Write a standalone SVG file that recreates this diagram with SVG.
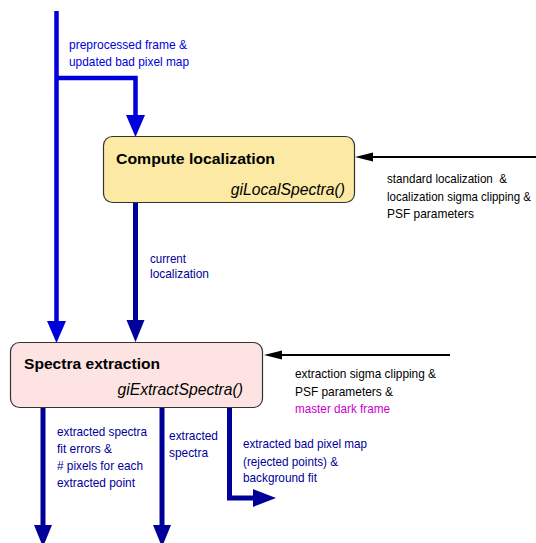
<svg xmlns="http://www.w3.org/2000/svg" width="536" height="543" viewBox="0 0 536 543">
<style>
.box{stroke:#333;stroke-width:1.2}
.title{font-family:"Liberation Sans",Arial,sans-serif;font-size:15.5px;font-weight:bold;fill:#000}
.func{font-family:"Liberation Sans",Arial,sans-serif;font-size:15.7px;font-style:italic;fill:#000}
.lbl{font-family:"Liberation Sans",Arial,sans-serif;font-size:13.5px}
.blue{fill:#0000dd}
.navy{fill:#000099}
.blk{fill:#000}
.mag{fill:#cc00cc}
.lb{fill:none;stroke:#0000dd;stroke-width:4.5}
.ln{fill:none;stroke:#000099;stroke-width:5}
.lk{fill:none;stroke:#000;stroke-width:1.8}
</style>
<g id="connectors">
<path class="lb" d="M56.5,11 V324"/>
<polygon class="blue" points="47,321 66,321 56.5,343"/>
<path class="lb" d="M56.5,78 H135.5 V117"/>
<polygon class="blue" points="126,115 145,115 135.5,137"/>
<path class="ln" d="M135.5,203 V322"/>
<polygon class="navy" points="126.5,320 144.5,320 135.5,342"/>
<path class="lk" d="M536,157 H370"/>
<polygon class="blk" points="355,157 373,152.5 373,161.5"/>
<path class="lk" d="M450,355 H280"/>
<polygon class="blk" points="264,355 282,350.5 282,359.5"/>
<path class="ln" d="M43,407 V527"/>
<polygon class="navy" points="34,525 52,525 43,547"/>
<path class="ln" d="M162,407 V527"/>
<polygon class="navy" points="153,525 171,525 162,547"/>
<path class="ln" d="M229.5,407 V498 H256"/>
<polygon class="navy" points="253,489 253,507 276,498"/>
<text class="lbl blue" x="69" y="49" textLength="118" lengthAdjust="spacingAndGlyphs">preprocessed frame &amp;</text>
<text class="lbl blue" x="69" y="66" textLength="120" lengthAdjust="spacingAndGlyphs">updated bad pixel map</text>
<text class="lbl navy" x="150" y="263" textLength="36" lengthAdjust="spacingAndGlyphs">current</text>
<text class="lbl navy" x="150" y="278" textLength="59" lengthAdjust="spacingAndGlyphs">localization</text>
<text class="lbl blk" x="387" y="183" textLength="120" lengthAdjust="spacingAndGlyphs" xml:space="preserve">standard localization  &amp;</text>
<text class="lbl blk" x="387" y="200.5" textLength="144" lengthAdjust="spacingAndGlyphs">localization sigma clipping &amp;</text>
<text class="lbl blk" x="387" y="218" textLength="87" lengthAdjust="spacingAndGlyphs">PSF parameters</text>
<text class="lbl blk" x="295" y="378" textLength="141" lengthAdjust="spacingAndGlyphs">extraction sigma clipping &amp;</text>
<text class="lbl blk" x="295" y="396" textLength="98" lengthAdjust="spacingAndGlyphs">PSF parameters &amp;</text>
<text class="lbl mag" x="295" y="413" textLength="95" lengthAdjust="spacingAndGlyphs">master dark frame</text>
<text class="lbl navy" x="57" y="436" textLength="90" lengthAdjust="spacingAndGlyphs">extracted spectra</text>
<text class="lbl navy" x="57" y="453" textLength="55" lengthAdjust="spacingAndGlyphs">fit errors &amp;</text>
<text class="lbl navy" x="57" y="470" textLength="86" lengthAdjust="spacingAndGlyphs"># pixels for each</text>
<text class="lbl navy" x="57" y="487" textLength="78" lengthAdjust="spacingAndGlyphs">extracted point</text>
<text class="lbl navy" x="169" y="440" textLength="49" lengthAdjust="spacingAndGlyphs">extracted</text>
<text class="lbl navy" x="169" y="457" textLength="39" lengthAdjust="spacingAndGlyphs">spectra</text>
<text class="lbl navy" x="243" y="448" textLength="124" lengthAdjust="spacingAndGlyphs">extracted bad pixel map</text>
<text class="lbl navy" x="243" y="466" textLength="95" lengthAdjust="spacingAndGlyphs">(rejected points) &amp;</text>
<text class="lbl navy" x="243" y="482" textLength="74" lengthAdjust="spacingAndGlyphs">background fit</text>
</g>
<g id="compute-localization">
<rect class="box" x="103.5" y="136.5" width="251" height="66" rx="9" fill="#fce9a3"/>
<text class="title" x="116" y="164" textLength="159" lengthAdjust="spacingAndGlyphs">Compute localization</text>
<text class="func" x="345" y="194.5" text-anchor="end">giLocalSpectra()</text>
</g>
<g id="spectra-extraction">
<rect class="box" x="10.5" y="342.5" width="252" height="65" rx="9" fill="#fde4e3"/>
<text class="title" x="24" y="368.5" textLength="136" lengthAdjust="spacingAndGlyphs">Spectra extraction</text>
<text class="func" x="243" y="395" text-anchor="end">giExtractSpectra()</text>
</g>
</svg>
